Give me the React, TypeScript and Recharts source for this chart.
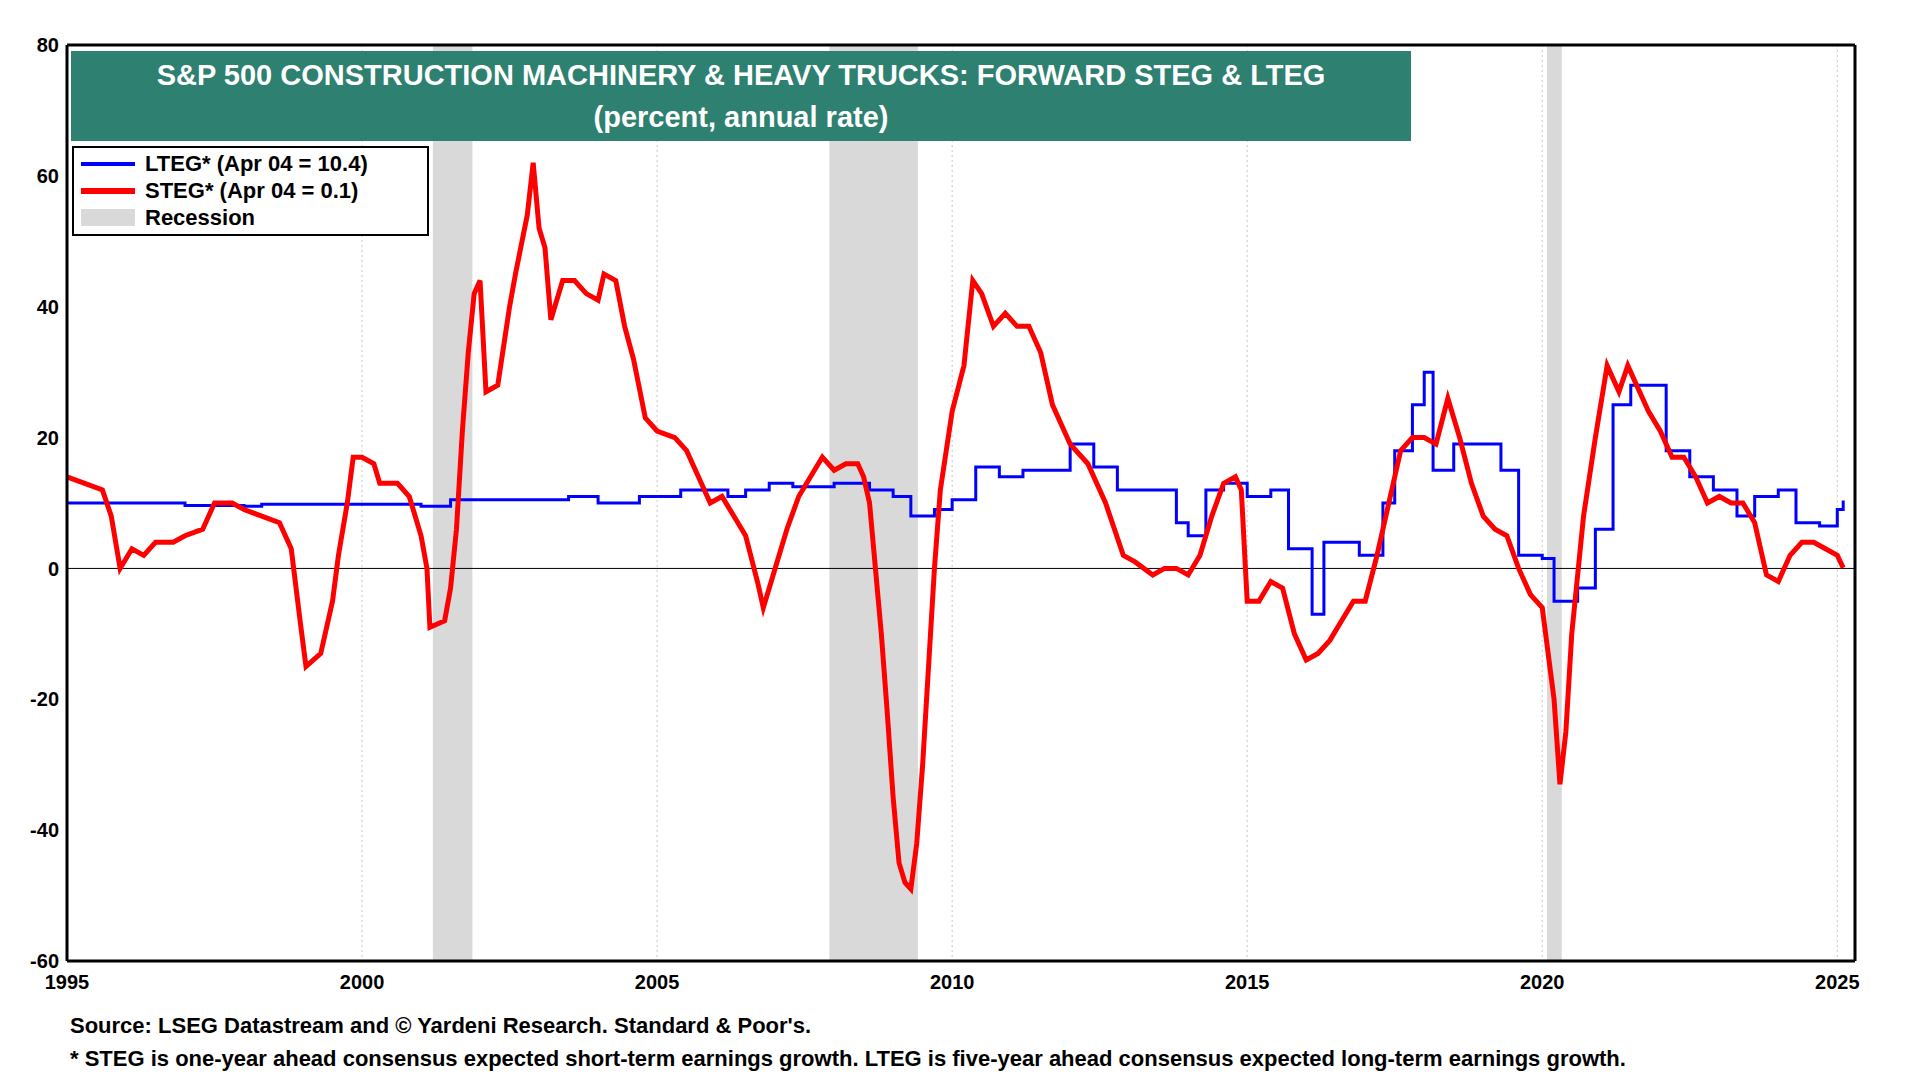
import React from "react";
import {
  LineChart,
  Line,
  XAxis,
  YAxis,
  CartesianGrid,
  ReferenceArea,
  ReferenceLine,
} from "recharts";

const stegDates = [1995.0, 1995.3, 1995.6, 1995.75, 1995.9, 1996.1, 1996.3, 1996.5, 1996.8, 1997.0, 1997.3, 1997.5, 1997.8, 1998.0, 1998.3, 1998.6, 1998.8, 1998.95, 1999.05, 1999.3, 1999.5, 1999.6, 1999.75, 1999.85, 2000.0, 2000.2, 2000.3, 2000.6, 2000.8, 2001.0, 2001.1, 2001.15, 2001.4, 2001.5, 2001.6, 2001.7, 2001.8, 2001.9, 2002.0, 2002.1, 2002.3, 2002.5, 2002.6, 2002.8, 2002.9, 2003.0, 2003.1, 2003.2, 2003.4, 2003.6, 2003.8, 2004.0, 2004.1, 2004.3, 2004.45, 2004.6, 2004.8, 2005.0, 2005.3, 2005.5, 2005.7, 2005.9, 2006.1, 2006.3, 2006.5, 2006.7, 2006.8, 2007.0, 2007.2, 2007.4, 2007.6, 2007.8, 2008.0, 2008.2, 2008.4, 2008.5, 2008.6, 2008.8, 2008.9, 2009.0, 2009.1, 2009.2, 2009.3, 2009.4, 2009.5, 2009.6, 2009.7, 2009.8, 2010.0, 2010.2, 2010.35, 2010.5, 2010.7, 2010.9, 2011.1, 2011.3, 2011.5, 2011.7, 2011.9, 2012.0, 2012.3, 2012.6, 2012.9, 2013.1, 2013.4, 2013.6, 2013.8, 2014.0, 2014.2, 2014.4, 2014.6, 2014.8, 2014.9, 2015.0, 2015.2, 2015.4, 2015.6, 2015.8, 2016.0, 2016.2, 2016.4, 2016.6, 2016.8, 2017.0, 2017.2, 2017.4, 2017.6, 2017.8, 2018.0, 2018.2, 2018.4, 2018.6, 2018.8, 2019.0, 2019.2, 2019.4, 2019.6, 2019.8, 2020.0, 2020.2, 2020.3, 2020.4, 2020.5, 2020.7, 2020.9, 2021.1, 2021.3, 2021.45, 2021.6, 2021.8, 2022.0, 2022.2, 2022.4, 2022.6, 2022.8, 2023.0, 2023.2, 2023.4, 2023.6, 2023.8, 2024.0, 2024.2, 2024.4, 2024.6, 2024.8, 2025.0, 2025.1];
const stegValues = [14, 13, 12, 8, 0, 3, 2, 4, 4, 5, 6, 10, 10, 9, 8, 7, 3, -8, -15, -13, -5, 2, 10, 17, 17, 16, 13, 13, 11, 5, 0, -9, -8, -3, 6, 21, 33, 42, 44, 27, 28, 40, 45, 54, 62, 52, 49, 38, 44, 44, 42, 41, 45, 44, 37, 32, 23, 21, 20, 18, 14, 10, 11, 8, 5, -2, -6, 0, 6, 11, 14, 17, 15, 16, 16, 14, 10, -10, -22, -35, -45, -48, -49, -42, -30, -15, 0, 12, 24, 31, 44, 42, 37, 39, 37, 37, 33, 25, 21, 19, 16, 10, 2, 1, -1, 0, 0, -1, 2, 8, 13, 14, 12, -5, -5, -2, -3, -10, -14, -13, -11, -8, -5, -5, 2, 10, 18, 20, 20, 19, 26, 20, 13, 8, 6, 5, 0, -4, -6, -20, -33, -25, -10, 8, 20, 31, 27, 31, 28, 24, 21, 17, 17, 14, 10, 11, 10, 10, 7, -1, -2, 2, 4, 4, 3, 2, 0.1];

const ltegDates = [1995, 1996, 1997, 1998, 1998.3, 2000, 2001, 2001.5, 2003, 2003.5, 2004, 2004.7, 2005.4, 2006.2, 2006.5, 2006.9, 2007.3, 2008, 2008.6, 2009, 2009.3, 2009.7, 2010, 2010.4, 2010.8, 2011.2, 2011.6, 2012, 2012.4, 2012.8, 2013.5, 2013.8, 2014, 2014.3, 2014.6, 2015, 2015.4, 2015.7, 2016, 2016.1, 2016.3, 2016.6, 2016.9, 2017.3, 2017.5, 2017.8, 2018, 2018.15, 2018.5, 2018.9, 2019.3, 2019.6, 2020, 2020.2, 2020.6, 2020.9, 2021.2, 2021.5, 2021.9, 2022.1, 2022.5, 2022.9, 2023.3, 2023.6, 2024, 2024.3, 2024.7, 2025, 2025.1];
const ltegValues = [10, 10, 9.6, 9.5, 9.8, 9.8, 9.5, 10.5, 10.5, 11, 10, 11, 12, 11, 12, 13, 12.5, 13, 12, 11, 8, 9, 10.5, 15.5, 14, 15, 15, 19, 15.5, 12, 12, 7, 5, 12, 13, 11, 12, 3, 3, -7, 4, 4, 2, 10, 18, 25, 30, 15, 19, 19, 15, 2, 1.5, -5, -3, 6, 25, 28, 28, 18, 14, 12, 8, 11, 12, 7, 6.5, 9, 10.4];

const recessions = [
  [2001.2, 2001.87],
  [2007.92, 2009.42],
  [2020.08, 2020.33],
];

const yearTicks = [1995, 2000, 2005, 2010, 2015, 2020, 2025];
const valueTicks = [-60, -40, -20, 0, 20, 40, 60, 80];

const stegData = stegDates.map((x, i) => ({ x, v: stegValues[i] }));
const ltegData = ltegDates.map((x, i) => ({ x, v: ltegValues[i] }));

const font = "'Liberation Sans', Arial, sans-serif";
const tickStyle = { fontSize: 20, fontWeight: 700, fill: "#000", fontFamily: font };

export default function App() {
  return (
    <div style={{ position: "absolute", left: 0, top: 0, width: 1920, height: 1080, background: "#fff", fontFamily: font }}>
      <LineChart
        width={1920}
        height={1080}
        margin={{ top: 45, right: 10, bottom: 88, left: 12 }}
      >
        <CartesianGrid stroke="#c8c8c8" strokeDasharray="2 3" />
        {recessions.map(([a, b], i) => (
          <ReferenceArea key={i} x1={a} x2={b} yAxisId="l" fill="#d9d9d9" fillOpacity={1} stroke="none" />
        ))}
        <XAxis
          dataKey="x"
          type="number"
          domain={[1995, 2025.3]}
          ticks={yearTicks}
          allowDuplicatedCategory={false}
          tick={tickStyle}
          tickLine={false}
          axisLine={{ stroke: "#000", strokeWidth: 3 }}
          height={31}
          tickMargin={8}
        />
        <YAxis
          yAxisId="l"
          domain={[-60, 80]}
          ticks={valueTicks}
          tick={tickStyle}
          tickLine={false}
          axisLine={{ stroke: "#000", strokeWidth: 3 }}
          width={55}
        />
        <YAxis
          yAxisId="r"
          orientation="right"
          domain={[-60, 80]}
          ticks={valueTicks}
          tick={tickStyle}
          tickLine={false}
          axisLine={{ stroke: "#000", strokeWidth: 3 }}
          width={55}
        />
        <ReferenceLine y={0} yAxisId="l" stroke="#000" strokeWidth={1} />
        <ReferenceLine y={80} yAxisId="l" stroke="#000" strokeWidth={3} />
        <Line
          yAxisId="l"
          data={ltegData}
          dataKey="v"
          type="stepAfter"
          stroke="#0000ff"
          strokeWidth={3}
          dot={false}
          isAnimationActive={false}
        />
        <Line
          yAxisId="l"
          data={stegData}
          dataKey="v"
          type="linear"
          stroke="#ff0000"
          strokeWidth={5}
          dot={false}
          isAnimationActive={false}
        />
      </LineChart>
      <div
        style={{
          position: "absolute", left: 71, top: 51, width: 1340, height: 90,
          background: "#2e8070", color: "#fff", fontWeight: 700, fontSize: 29,
          textAlign: "center", lineHeight: "42px", paddingTop: 3, boxSizing: "border-box",
        }}
      >
        <div>S&amp;P 500 CONSTRUCTION MACHINERY &amp; HEAVY TRUCKS: FORWARD STEG &amp; LTEG</div>
        <div>(percent, annual rate)</div>
      </div>
      <div
        style={{
          position: "absolute", left: 72, top: 146, width: 357, height: 90,
          border: "2px solid #000", background: "#fff", boxSizing: "border-box",
          fontSize: 22, fontWeight: 700, lineHeight: "27px", padding: "2px 7px",
        }}
      >
        {[
          ["LTEG* (Apr 04 = 10.4)", "#0000ff", 4],
          ["STEG* (Apr 04 = 0.1)", "#ff0000", 6],
          ["Recession", "#d9d9d9", 17],
        ].map(([label, color, h]) => (
          <div key={label as string} style={{ display: "flex", alignItems: "center" }}>
            <span style={{ display: "inline-block", width: 54, height: h as number, background: color as string, marginRight: 10 }} />
            {label}
          </div>
        ))}
      </div>
      <div style={{ position: "absolute", left: 70, top: 1013, fontSize: 22, fontWeight: 700 }}>
        Source: LSEG Datastream and © Yardeni Research. Standard &amp; Poor's.
      </div>
      <div style={{ position: "absolute", left: 70, top: 1046, fontSize: 22, fontWeight: 700 }}>
        * STEG is one-year ahead consensus expected short-term earnings growth. LTEG is five-year ahead consensus expected long-term earnings growth.
      </div>
    </div>
  );
}
